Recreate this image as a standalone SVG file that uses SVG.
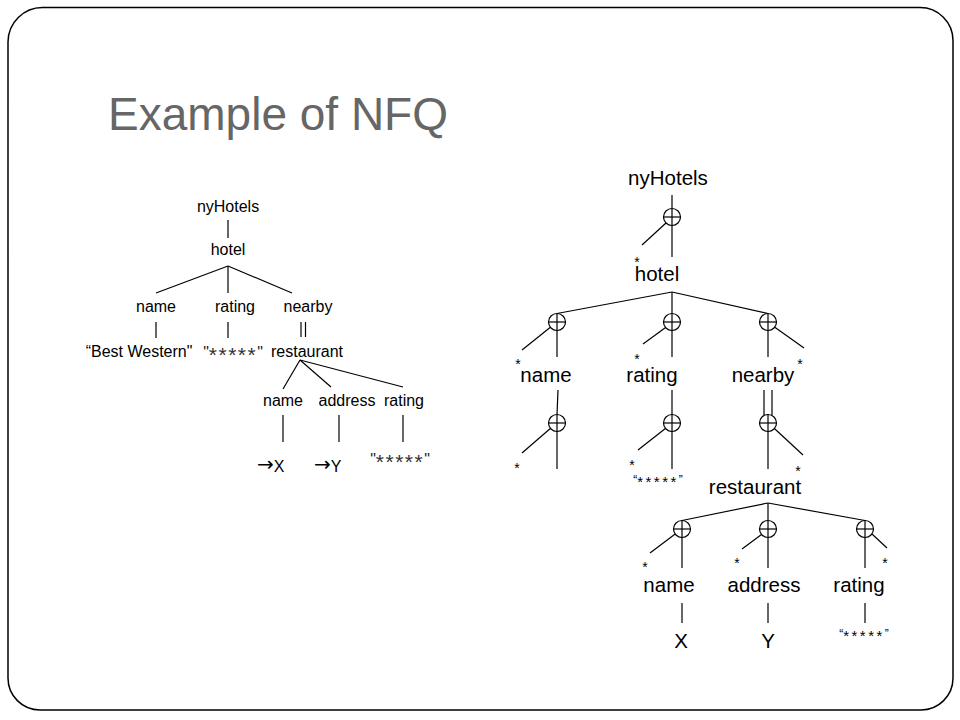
<svg xmlns="http://www.w3.org/2000/svg" width="960" height="720" viewBox="0 0 960 720">
<style>
.ln{stroke:#000;stroke-width:1.2;fill:none}
.c{stroke:#000;stroke-width:1.2;fill:none}
.t{font-family:"Liberation Sans",Arial,sans-serif;fill:#000;text-anchor:middle}
.l{font-size:16px}
.r{font-size:20.5px}
.s{font-size:14px}
.q{font-size:12px}
.qs{font-size:15px;letter-spacing:2.5px}
.ls{font-size:16px;fill:#222}
.lst{font-size:21px;letter-spacing:1.5px;fill:#333}
.title{font-family:"Liberation Sans",Arial,sans-serif;font-size:46px;fill:#666666}
</style>
<rect width="960" height="720" fill="#fff"/>
<path d="M43,7.5 H920 A33,33 0 0 1 953,40.5 V678 A32,32 0 0 1 921,710 H40 A32,32 0 0 1 8,678 V42 A34.5,34.5 0 0 1 43,7.5 Z" fill="none" stroke="#000" stroke-width="1.5"/>
<text class="title" x="108" y="130">Example of NFQ</text>

<!-- LEFT TREE -->
<g id="left-connectors">
<line class="ln" x1="228" y1="220" x2="228" y2="238"/>
<line class="ln" x1="228" y1="266" x2="156" y2="293"/>
<line class="ln" x1="228" y1="266" x2="228" y2="293"/>
<line class="ln" x1="228" y1="266" x2="292" y2="293"/>
<line class="ln" x1="156" y1="322" x2="156" y2="338"/>
<line class="ln" x1="228" y1="322" x2="228" y2="338"/>
<line class="ln" x1="301" y1="322" x2="301" y2="337"/>
<line class="ln" x1="305.5" y1="322" x2="305.5" y2="337"/>
<line class="ln" x1="300" y1="360" x2="283" y2="389"/>
<line class="ln" x1="300" y1="360" x2="331" y2="387"/>
<line class="ln" x1="300" y1="360" x2="403" y2="387"/>
<line class="ln" x1="283" y1="415" x2="283" y2="442"/>
<line class="ln" x1="339" y1="415" x2="339" y2="442"/>
<line class="ln" x1="403" y1="415" x2="403" y2="442"/>
</g>
<g id="l-nyHotels"><text class="t l" x="228" y="212">nyHotels</text></g>
<g id="l-hotel"><text class="t l" x="228" y="255">hotel</text></g>
<g id="l-name"><text class="t l" x="156" y="312">name</text></g>
<g id="l-rating"><text class="t l" x="235" y="312">rating</text></g>
<g id="l-nearby"><text class="t l" x="308" y="312">nearby</text></g>
<g id="l-bestwestern"><text class="t l" x="139" y="357">“Best Western"</text></g>
<g id="l-stars1"><text class="t ls" x="233" y="357.5">"<tspan class="lst" dy="4">*****</tspan><tspan dy="-4">"</tspan></text></g>
<g id="l-restaurant"><text class="t l" x="307" y="357">restaurant</text></g>
<g id="l-rname"><text class="t l" x="283" y="406">name</text></g>
<g id="l-raddress"><text class="t l" x="347" y="406">address</text></g>
<g id="l-rrating"><text class="t l" x="404" y="406">rating</text></g>
<g id="l-x"><text class="t l" x="257" y="472" style="text-anchor:start"><tspan font-family="DejaVu Sans" font-size="20" dy="-1.5">→</tspan><tspan dy="1.5">X</tspan></text></g>
<g id="l-y"><text class="t l" x="314" y="472" style="text-anchor:start"><tspan font-family="DejaVu Sans" font-size="20" dy="-1.5">→</tspan><tspan dy="1.5">Y</tspan></text></g>
<g id="l-stars2"><text class="t ls" x="400" y="465">"<tspan class="lst" dy="4">*****</tspan><tspan dy="-4">"</tspan></text></g>

<!-- RIGHT TREE -->
<g id="right-connectors">
<line class="ln" x1="672" y1="195" x2="672" y2="257"/>
<line class="ln" x1="666" y1="223" x2="642" y2="245"/>
<line class="ln" x1="672" y1="292" x2="557" y2="313.5"/>
<line class="ln" x1="672" y1="292" x2="672" y2="357"/>
<line class="ln" x1="672" y1="292" x2="768" y2="313.5"/>
<line class="ln" x1="557" y1="313.5" x2="557" y2="357"/>
<line class="ln" x1="550.4" y1="327.3" x2="522" y2="350"/>
<line class="ln" x1="665.6" y1="327.5" x2="643" y2="344"/>
<line class="ln" x1="768" y1="313.5" x2="768" y2="357"/>
<line class="ln" x1="774.8" y1="327.3" x2="804" y2="348"/>
<line class="ln" x1="558" y1="390" x2="557" y2="414.5"/>
<line class="ln" x1="557" y1="414.5" x2="557" y2="469"/>
<line class="ln" x1="550.3" y1="428.5" x2="522" y2="453"/>
<line class="ln" x1="672" y1="390" x2="672" y2="469"/>
<line class="ln" x1="665.4" y1="428.5" x2="638" y2="450"/>
<line class="ln" x1="764" y1="390" x2="764" y2="415.8"/>
<line class="ln" x1="772" y1="390" x2="772" y2="415.8"/>
<line class="ln" x1="768" y1="414.5" x2="768" y2="469"/>
<line class="ln" x1="774.4" y1="428.5" x2="803" y2="455"/>
<line class="ln" x1="768" y1="503" x2="682" y2="520.5"/>
<line class="ln" x1="768" y1="503" x2="768" y2="568"/>
<line class="ln" x1="768" y1="503" x2="865" y2="520.5"/>
<line class="ln" x1="682" y1="520.5" x2="682" y2="568"/>
<line class="ln" x1="675.2" y1="534" x2="650" y2="553"/>
<line class="ln" x1="761.5" y1="534.5" x2="742" y2="549"/>
<line class="ln" x1="865" y1="520.5" x2="865" y2="568"/>
<line class="ln" x1="872" y1="534" x2="887" y2="548"/>
<line class="ln" x1="682" y1="603" x2="682" y2="623"/>
<line class="ln" x1="768" y1="603" x2="768" y2="623"/>
<line class="ln" x1="865" y1="603" x2="865" y2="623"/>
</g>
<g id="r-nyHotels"><text class="t r" x="668" y="185">nyHotels</text></g>
<g id="r-op1"><circle class="c" cx="672" cy="217" r="8.5"/><line class="ln" x1="663.5" y1="217" x2="680.5" y2="217"/><text class="t s" x="637" y="267">*</text></g>
<g id="r-hotel"><text class="t r" x="657" y="281">hotel</text></g>
<g id="r-op-name"><circle class="c" cx="557" cy="322" r="8.5"/><line class="ln" x1="548.5" y1="322" x2="565.5" y2="322"/><text class="t s" x="518" y="369">*</text></g>
<g id="r-op-rating"><circle class="c" cx="672" cy="322" r="8.5"/><line class="ln" x1="663.5" y1="322" x2="680.5" y2="322"/><text class="t s" x="637" y="364">*</text></g>
<g id="r-op-nearby"><circle class="c" cx="768" cy="322" r="8.5"/><line class="ln" x1="759.5" y1="322" x2="776.5" y2="322"/><text class="t s" x="800" y="369">*</text></g>
<g id="r-name"><text class="t r" x="546" y="382">name</text></g>
<g id="r-rating"><text class="t r" x="652" y="382">rating</text></g>
<g id="r-nearby"><text class="t r" x="763" y="382">nearby</text></g>
<g id="r-op-name2"><circle class="c" cx="557" cy="423" r="8.5"/><line class="ln" x1="548.5" y1="423" x2="565.5" y2="423"/><text class="t s" x="517" y="473">*</text></g>
<g id="r-op-rating2"><circle class="c" cx="672" cy="423" r="8.5"/><line class="ln" x1="663.5" y1="423" x2="680.5" y2="423"/><text class="t s" x="632" y="470">*</text></g>
<g id="r-op-nearby2"><circle class="c" cx="768" cy="423" r="8.5"/><line class="ln" x1="759.5" y1="423" x2="776.5" y2="423"/><text class="t s" x="798" y="476">*</text></g>
<g id="r-stars1"><text class="t q" x="658" y="484">“<tspan class="qs" dy="2.5">*****</tspan><tspan dy="-2.5">”</tspan></text></g>
<g id="r-restaurant"><text class="t r" x="755" y="494">restaurant</text></g>
<g id="r-op-rname"><circle class="c" cx="682" cy="529" r="8.5"/><line class="ln" x1="673.5" y1="529" x2="690.5" y2="529"/><text class="t s" x="645" y="572">*</text></g>
<g id="r-op-raddress"><circle class="c" cx="768" cy="529" r="8.5"/><line class="ln" x1="759.5" y1="529" x2="776.5" y2="529"/><text class="t s" x="737" y="568">*</text></g>
<g id="r-op-rrating"><circle class="c" cx="865" cy="529" r="8.5"/><line class="ln" x1="856.5" y1="529" x2="873.5" y2="529"/><text class="t s" x="885" y="568">*</text></g>
<g id="r-rname"><text class="t r" x="669" y="592">name</text></g>
<g id="r-raddress"><text class="t r" x="764" y="592">address</text></g>
<g id="r-rrating"><text class="t r" x="859" y="592">rating</text></g>
<g id="r-x"><text class="t r" x="681" y="648">X</text></g>
<g id="r-y"><text class="t r" x="768" y="648">Y</text></g>
<g id="r-stars2"><text class="t q" x="864" y="638">“<tspan class="qs" dy="2.5">*****</tspan><tspan dy="-2.5">”</tspan></text></g>
</svg>
